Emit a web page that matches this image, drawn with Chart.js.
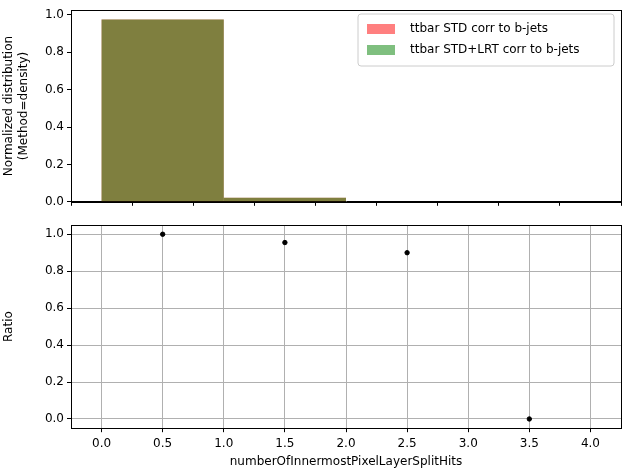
<!DOCTYPE html>
<html><head>
<script src="https://cdn.jsdelivr.net/npm/chart.js@4"></script>
<style>
body{margin:0;background:#fff;width:630px;height:469px;position:relative;overflow:hidden}
#c1{position:absolute;left:0;top:0}
#c2{position:absolute;left:0;top:212px}
</style></head><body>
<canvas id="c1" width="630" height="212"></canvas>
<canvas id="c2" width="630" height="257"></canvas>
<script>
const binCenters = [0.5, 1.5, 2.5, 3.5];
const stdValues = [0.975, 0.022, 0, 0];
const lrtValues = [0.975, 0.022, 0, 0];
const ratioValues = [1.0, 0.955, 0.9, 0.0];
const xTicks = [0, 0.5, 1, 1.5, 2, 2.5, 3, 3.5, 4];
const labels = ['ttbar STD corr to b-jets', 'ttbar STD+LRT corr to b-jets'];

Chart.defaults.font.family = 'DejaVu Sans';
Chart.defaults.font.size = 12;
Chart.defaults.color = '#000';
Chart.defaults.animation = false;

const fixY = s => { s.width = 71; };
const xScale = (showLabels) => ({
  type: 'linear', min: -0.25, max: 4.25, offset: false,
  afterBuildTicks: s => { s.ticks = xTicks.map(v => ({value: v})); },
  ticks: {display: showLabels, callback: v => v.toFixed(1), padding: 4},
  grid: {drawOnChartArea: showLabels, color: '#b0b0b0', drawTicks: true, tickLength: 4, tickColor: '#000'},
  border: {color: '#000'}
});

const boxPlugin = {
  id: 'box',
  afterDraw(c) {
    const a = c.chartArea, ctx = c.ctx;
    ctx.save(); ctx.strokeStyle = '#000'; ctx.lineWidth = 1;
    ctx.strokeRect(Math.round(a.left) + 0.5, Math.round(a.top) + 0.5, Math.round(a.right - a.left), Math.round(a.bottom - a.top));
    ctx.restore();
  }
};

const legendPlugin = {
  id: 'lg',
  afterDraw(c) {
    const ctx = c.ctx, x0 = 358, y0 = 14;
    ctx.save();
    ctx.fillStyle = '#fff'; ctx.strokeStyle = '#ccc';
    ctx.beginPath(); ctx.roundRect(x0, y0, 256, 52, 3); ctx.fill(); ctx.stroke();
    const cols = ['rgba(255,0,0,0.5)', 'rgba(0,128,0,0.5)'];
    ctx.font = '12px DejaVu Sans'; ctx.textBaseline = 'middle';
    labels.forEach((l, i) => {
      ctx.fillStyle = cols[i]; ctx.fillRect(x0 + 9, y0 + 10 + i * 21, 28, 10);
      ctx.fillStyle = '#000'; ctx.fillText(l, x0 + 52, y0 + 15 + i * 21);
    });
    ctx.restore();
  }
};

new Chart(document.getElementById('c1'), {
  type: 'bar',
  data: {datasets: [
    {label: labels[0], data: binCenters.map((x, i) => ({x, y: stdValues[i]})), backgroundColor: 'rgba(255,0,0,0.5)', barPercentage: 2, categoryPercentage: 1, grouped: false, order: 2},
    {label: labels[1], data: binCenters.map((x, i) => ({x, y: lrtValues[i]})), backgroundColor: 'rgba(0,128,0,0.5)', barPercentage: 2, categoryPercentage: 1, grouped: false, order: 1}
  ]},
  options: {
    responsive: false, layout: {padding: {top: 8, right: 9, bottom: 0}},
    plugins: {legend: {display: false}, tooltip: {enabled: false}},
    scales: {
      x: xScale(false),
      y: {min: 0, max: 1.025, afterFit: fixY,
        afterBuildTicks: s => { s.ticks = [0, 0.2, 0.4, 0.6, 0.8, 1.0].map(v => ({value: v})); },
        ticks: {callback: v => v.toFixed(1)}, grid: {drawOnChartArea: false, drawTicks: true, tickLength: 4, tickColor: '#000'},
        border: {color: '#000'},
        title: {display: true, text: ['Normalized distribution', '(Method=density)'], padding: 2}}
    }
  },
  plugins: [boxPlugin, legendPlugin]
});

new Chart(document.getElementById('c2'), {
  type: 'scatter',
  data: {datasets: [{data: binCenters.map((x, i) => ({x, y: ratioValues[i]})), backgroundColor: '#000', borderColor: '#000', pointRadius: 2.2}]},
  options: {
    responsive: false, layout: {padding: {top: 13, right: 9, bottom: 0}},
    plugins: {legend: {display: false}, tooltip: {enabled: false}},
    scales: {
      x: Object.assign(xScale(true), {title: {display: true, text: 'numberOfInnermostPixelLayerSplitHits', padding: 0}}),
      y: {min: -0.05, max: 1.05, afterFit: fixY,
        afterBuildTicks: s => { s.ticks = [0, 0.2, 0.4, 0.6, 0.8, 1.0].map(v => ({value: v})); },
        ticks: {callback: v => v.toFixed(1)}, grid: {color: '#b0b0b0', tickLength: 4, tickColor: '#000'},
        border: {color: '#000'},
        title: {display: true, text: 'Ratio', padding: 2}}
    }
  },
  plugins: [boxPlugin]
});
</script>
</body></html>
